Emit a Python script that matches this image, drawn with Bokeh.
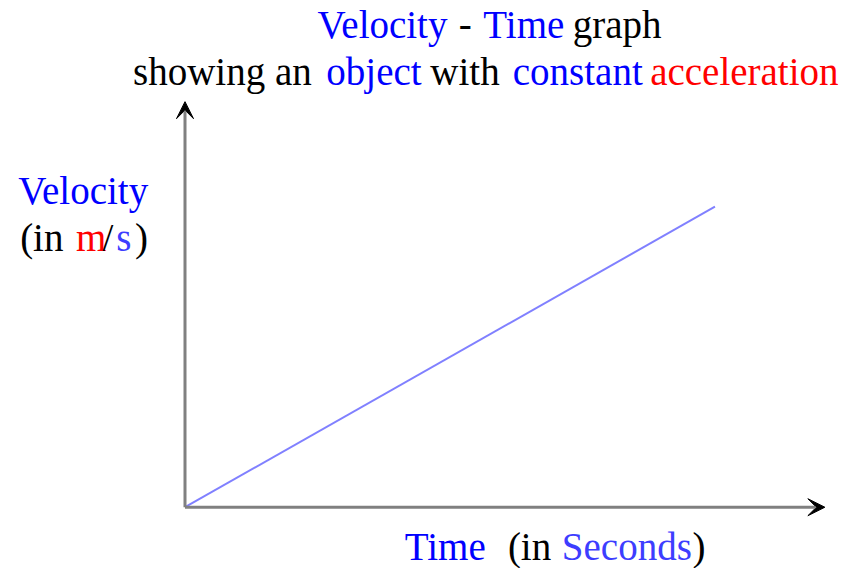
from bokeh.plotting import figure
from bokeh.models import Range1d, Arrow, VeeHead, Label
from bokeh.embed import file_html
from bokeh.resources import INLINE

# ---- data ----
time_s = [0, 10]
velocity_ms = [0, 20]

title_line1 = [("Velocity", "#0000ff"), ("-", "#000000"), ("Time", "#0000ff"), ("graph", "#000000")]
title_line2 = [("showing an", "#000000"), ("object", "#0000ff"), ("with", "#000000"),
               ("constant", "#0000ff"), ("acceleration", "#ff0000")]
ylabel_line1 = [("Velocity", "#0000ff")]
ylabel_line2 = [("(in", "#000000"), ("m", "#ff0000"), ("/", "#000000"), ("s", "#3d3dff"), (")", "#000000")]
xlabel_parts = [("Time", "#0000ff"), ("(in", "#000000"), ("Seconds", "#3d3dff"), (")", "#000000")]

W, H = 844, 568
SX, SY = W / 860, H / 584   # map reference-image layout onto the canvas


def cx(x):
    return x * SX


def cy(y):
    return y * SY


# pixel layout (canvas coords, from top-left)
ox, oy = cx(188), cy(521)   # origin
ex, ey = cx(728), cy(212)   # last data point
px_per_t = (ex - ox) / (time_s[-1] - time_s[0])
px_per_v = (oy - ey) / (velocity_ms[-1] - velocity_ms[0])
x0 = time_s[0] - ox / px_per_t
y0 = velocity_ms[0] - (H - oy) / px_per_v

p = figure(width=W, height=H, output_backend="svg", toolbar_location=None,
           x_range=Range1d(x0, x0 + W / px_per_t), y_range=Range1d(y0, y0 + H / px_per_v),
           min_border=0)
p.axis.visible = False
p.grid.visible = False
p.outline_line_color = None

# axes with arrow heads
x_tip = time_s[0] + (cx(840) - ox) / px_per_t
y_tip = velocity_ms[0] + (oy - cy(104)) / px_per_v
for (xe, ye) in [(x_tip, velocity_ms[0]), (time_s[0], y_tip)]:
    p.add_layout(Arrow(x_start=time_s[0], y_start=velocity_ms[0], x_end=xe, y_end=ye,
                       line_color="#808080", line_width=3,
                       end=VeeHead(size=17, fill_color="black", line_color="black")))

p.line(time_s, velocity_ms, line_color="#8080ff", line_width=2)

FONT = "Liberation Serif"
SIZE = "39px"
BASELINE_FIX = 14   # observed label baseline shift


def place(parts, xs, baseline_y):
    for (txt, col), xp in zip(parts, xs):
        p.add_layout(Label(x=cx(xp), y=H - cy(baseline_y) + BASELINE_FIX, x_units="screen", y_units="screen",
                           text=txt, text_color=col, text_font=FONT, text_font_size=SIZE,
                           text_baseline="alphabetic", text_align="left"))


place(title_line1, [323, 467, 492, 583], 39)
place(title_line2, [135, 332, 438, 522, 662], 87)
place(ylabel_line1, [18], 210)
place(ylabel_line2, [20, 77, 104, 118, 137], 258)
place(xlabel_parts, [412, 517, 572, 705], 576)

open("out.html", "w").write(file_html(p, INLINE))
